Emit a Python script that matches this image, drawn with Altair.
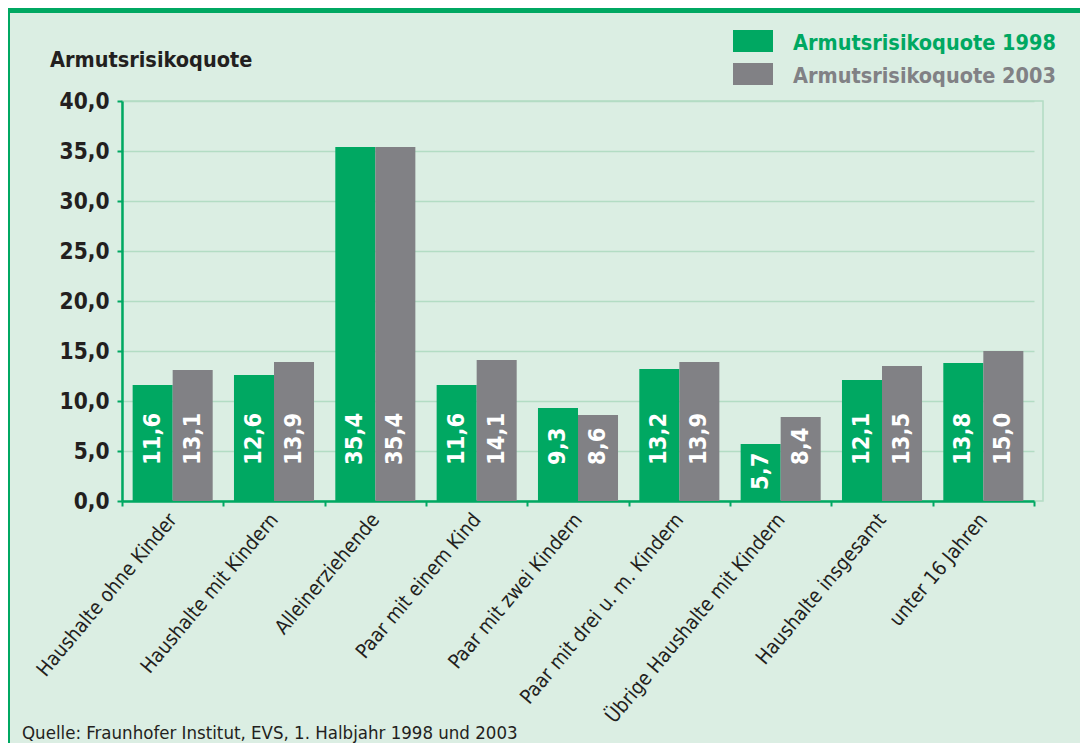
import altair as alt
import pandas as pd

categories = [
    "Haushalte ohne Kinder",
    "Haushalte mit Kindern",
    "Alleinerziehende",
    "Paar mit einem Kind",
    "Paar mit zwei Kindern",
    "Paar mit drei u. m. Kindern",
    "Übrige Haushalte mit Kindern",
    "Haushalte insgesamt",
    "unter 16 Jahren",
]
series = ["Armutsrisikoquote 1998", "Armutsrisikoquote 2003"]
q1998 = [11.6, 12.6, 35.4, 11.6, 9.3, 13.2, 5.7, 12.1, 13.8]
q2003 = [13.1, 13.9, 35.4, 14.1, 8.6, 13.9, 8.4, 13.5, 15.0]
y_ticks = [0, 5, 10, 15, 20, 25, 30, 35, 40]
y_title = "Armutsrisikoquote"
source = "Quelle: Fraunhofer Institut, EVS, 1. Halbjahr 1998 und 2003"

rows = []
for c, a, b in zip(categories, q1998, q2003):
    rows.append({"Kategorie": c, "Serie": series[0], "Wert": a})
    rows.append({"Kategorie": c, "Serie": series[1], "Wert": b})
df = pd.DataFrame(rows)

GREEN = "#00a862"
GREY = "#818185"
BG = "#dbeee3"
DARK = "#231f20"
GRID = "#b3dcc4"
FONT = "DejaVu Sans Condensed, sans-serif"

color = alt.Color("Serie:N", scale=alt.Scale(domain=series, range=[GREEN, GREY]), legend=None)
x = alt.X(
    "Kategorie:N",
    sort=categories,
    scale=alt.Scale(range=[0, 912], paddingInner=0, paddingOuter=0),
    axis=alt.Axis(
        title=None, labelAngle=-50, labelAlign="right", labelBaseline="middle",
        labelFontSize=20, labelFont=FONT, labelColor=DARK, labelPadding=10,
        tickBand="extent", tickColor=GREEN, tickSize=5, tickWidth=2,
        domainColor=GREEN, domainWidth=2.5, labelLimit=400,
    ),
)
xo = alt.XOffset("Serie:N", sort=series, scale=alt.Scale(paddingOuter=0.266, paddingInner=0))
y = alt.Y(
    "Wert:Q",
    scale=alt.Scale(domain=[0, 40], nice=False),
    axis=alt.Axis(
        title=None, values=y_ticks,
        labelExpr="replace(format(datum.value, '.1f'), '.', ',')",
        labelFont=FONT, labelFontWeight="bold", labelFontSize=22.5, labelColor=DARK,
        labelPadding=8, tickColor=GREEN, tickSize=5, tickWidth=2,
        domainColor=GREEN, domainWidth=2.5, grid=True, gridColor=GRID, gridWidth=1.5,
    ),
)

bars = alt.Chart(df).mark_bar().encode(x=x, xOffset=xo, y=y, color=color)

labels = alt.Chart(df).transform_calculate(
    lab="replace(format(datum.Wert, '.1f'), '.', ',')",
    pos="min(3.6, datum.Wert - 4.6)",
).mark_text(
    angle=270, align="left", baseline="middle", font=FONT, fontWeight="bold",
    fontSize=23.5, color="white",
).encode(
    x=alt.X("Kategorie:N", sort=categories),
    xOffset=alt.XOffset("Serie:N", sort=series),
    y=alt.Y("pos:Q"),
    text="lab:N",
)

one = pd.DataFrame({"t": [y_title]})
title = alt.Chart(one).mark_text(
    align="left", baseline="alphabetic", font=FONT, fontWeight="bold", fontSize=21.5, color=DARK
).encode(x=alt.value(-72), y=alt.value(-34), text="t:N")

leg1_rect = alt.Chart(pd.DataFrame({"t": [series[0]]})).mark_rect(color=GREEN).encode(
    x=alt.value(611), x2=alt.value(651), y=alt.value(-71), y2=alt.value(-49))
leg2_rect = alt.Chart(pd.DataFrame({"t": [series[1]]})).mark_rect(color=GREY).encode(
    x=alt.value(611), x2=alt.value(651), y=alt.value(-38), y2=alt.value(-16))
leg1_text = alt.Chart(pd.DataFrame({"t": [series[0]]})).mark_text(
    align="left", baseline="alphabetic", font=FONT, fontWeight="bold", fontSize=21.5, color=GREEN
).encode(x=alt.value(671), y=alt.value(-51), text="t:N")
leg2_text = alt.Chart(pd.DataFrame({"t": [series[1]]})).mark_text(
    align="left", baseline="alphabetic", font=FONT, fontWeight="bold", fontSize=21.5, color=GREY
).encode(x=alt.value(671), y=alt.value(-18), text="t:N")

top_band = alt.Chart(one).mark_rect(color=GREEN).encode(
    x=alt.value(-114), x2=alt.value(958), y=alt.value(-93), y2=alt.value(-88))
left_line = alt.Chart(one).mark_rule(color=GREEN, strokeWidth=2).encode(
    x=alt.value(-113), y=alt.value(-88), y2=alt.value(642))
src = alt.Chart(pd.DataFrame({"t": [source]})).mark_text(
    align="left", baseline="alphabetic", font=FONT, fontSize=18.5, color=DARK
).encode(x=alt.value(-100), y=alt.value(638), text="t:N")

chart = alt.layer(
    bars, labels, title, leg1_rect, leg2_rect, leg1_text, leg2_text, top_band, left_line, src
).properties(
    width=921, height=400,
    padding={"left": 114, "top": 93, "right": 37, "bottom": 242},
    autosize=alt.AutoSizeParams(type="none"),
    background=BG,
).configure_view(stroke=GRID, strokeWidth=1.5)

chart.save("out.html", embed_options={"renderer": "svg", "actions": False})
